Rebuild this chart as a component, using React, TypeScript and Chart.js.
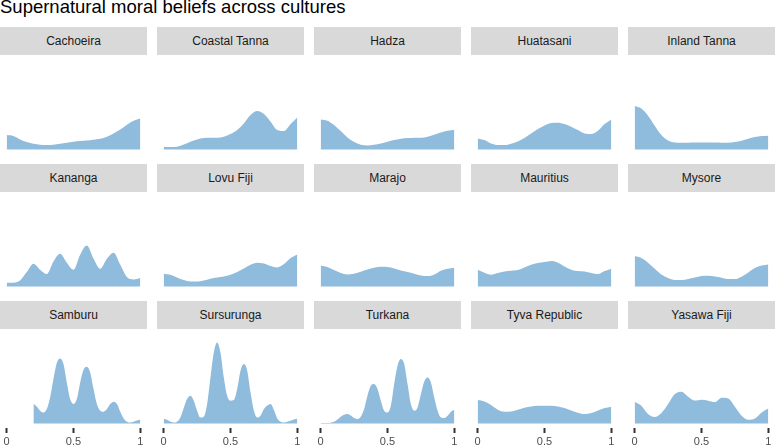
import React, { useEffect, useRef } from "react";
import { Chart, registerables } from "chart.js";

Chart.register(...registerables);

const FONT = "'Liberation Sans', Arial, Helvetica, sans-serif";
const FILL = "rgb(143,187,220)";

const chartTitle = "Supernatural moral beliefs across cultures";

const cultures = [
  "Cachoeira", "Coastal Tanna", "Hadza", "Huatasani", "Inland Tanna",
  "Kananga", "Lovu Fiji", "Marajo", "Mauritius", "Mysore",
  "Samburu", "Sursurunga", "Turkana", "Tyva Republic", "Yasawa Fiji",
];

const xTickValues = [0, 0.5, 1];
const xTickLabels = ["0", "0.5", "1"];

const xGrid21 = [0, 0.05, 0.1, 0.15, 0.2, 0.25, 0.3, 0.35, 0.4, 0.45, 0.5, 0.55, 0.6, 0.65, 0.7, 0.75, 0.8, 0.85, 0.9, 0.95, 1];
const xGrid41 = [0, 0.025, 0.05, 0.075, 0.1, 0.125, 0.15, 0.175, 0.2, 0.225, 0.25, 0.275, 0.3, 0.325, 0.35, 0.375, 0.4, 0.425, 0.45, 0.475, 0.5, 0.525, 0.55, 0.575, 0.6, 0.625, 0.65, 0.675, 0.7, 0.725, 0.75, 0.775, 0.8, 0.825, 0.85, 0.875, 0.9, 0.925, 0.95, 0.975, 1];
const xSamburu = [0.2, 0.225, 0.25, 0.275, 0.3, 0.325, 0.35, 0.375, 0.4, 0.425, 0.45, 0.475, 0.5, 0.525, 0.55, 0.575, 0.6, 0.625, 0.65, 0.675, 0.7, 0.725, 0.75, 0.775, 0.8, 0.825, 0.85, 0.875, 0.9, 0.925, 0.95, 0.975, 1];

const cachoeira = [0.72, 0.67, 0.50, 0.37, 0.29, 0.24, 0.22, 0.24, 0.29, 0.34, 0.39, 0.42, 0.45, 0.49, 0.54, 0.64, 0.80, 1.00, 1.24, 1.44, 1.55];
const coastalTanna = [0.14, 0.12, 0.14, 0.25, 0.39, 0.50, 0.57, 0.59, 0.59, 0.64, 0.77, 0.97, 1.30, 1.72, 1.92, 1.77, 1.39, 0.97, 0.92, 1.27, 1.60];
const hadza = [1.50, 1.44, 1.22, 0.92, 0.60, 0.37, 0.24, 0.20, 0.24, 0.30, 0.39, 0.47, 0.54, 0.57, 0.59, 0.59, 0.64, 0.74, 0.85, 0.94, 0.97];
const huatasani = [0.55, 0.47, 0.30, 0.22, 0.22, 0.29, 0.40, 0.57, 0.80, 1.02, 1.20, 1.32, 1.34, 1.27, 1.14, 0.97, 0.80, 0.77, 0.94, 1.27, 1.50];
const inlandTanna = [2.17, 2.05, 1.69, 1.19, 0.72, 0.45, 0.35, 0.34, 0.34, 0.35, 0.35, 0.35, 0.35, 0.34, 0.34, 0.37, 0.44, 0.54, 0.62, 0.67, 0.69];
const kananga = [0.19, 0.19, 0.30, 0.72, 1.14, 0.84, 0.62, 1.25, 1.64, 1.19, 0.84, 1.59, 2.05, 1.39, 0.89, 1.39, 1.69, 1.09, 0.47, 0.35, 0.42];
const lovuFiji = [0.64, 0.59, 0.45, 0.32, 0.25, 0.25, 0.30, 0.39, 0.45, 0.50, 0.59, 0.72, 0.90, 1.09, 1.19, 1.15, 1.02, 0.95, 1.12, 1.42, 1.60];
const marajo = [1.05, 0.97, 0.82, 0.67, 0.60, 0.64, 0.74, 0.85, 0.94, 0.99, 0.97, 0.90, 0.80, 0.72, 0.64, 0.55, 0.52, 0.60, 0.79, 0.89, 0.94];
const mauritius = [0.84, 0.69, 0.59, 0.67, 0.75, 0.79, 0.82, 0.95, 1.09, 1.17, 1.22, 1.27, 1.19, 1.00, 0.84, 0.77, 0.75, 0.67, 0.62, 0.77, 0.89];
const mysore = [1.52, 1.42, 1.19, 0.89, 0.60, 0.42, 0.32, 0.32, 0.37, 0.45, 0.52, 0.54, 0.50, 0.44, 0.37, 0.37, 0.49, 0.70, 0.92, 1.05, 1.10];
const samburu = [1.00, 0.85, 0.64, 0.55, 0.72, 1.30, 2.22, 3.02, 3.25, 2.97, 2.05, 1.22, 0.97, 1.22, 2.05, 2.69, 2.84, 2.55, 1.72, 0.97, 0.64, 0.59, 0.72, 0.97, 1.09, 0.97, 0.59, 0.25, 0.09, 0.05, 0.09, 0.15, 0.19];
const sursurunga = [0.24, 0.19, 0.10, 0.05, 0.09, 0.30, 0.77, 1.22, 1.39, 1.14, 0.64, 0.30, 0.34, 0.97, 2.30, 3.55, 4.05, 3.55, 2.30, 1.39, 1.14, 1.17, 1.72, 2.64, 2.97, 2.64, 1.55, 0.64, 0.30, 0.39, 0.72, 0.90, 0.97, 0.67, 0.25, 0.09, 0.05, 0.09, 0.14, 0.20, 0.24];
const turkana = [0.02, 0.02, 0.02, 0.04, 0.09, 0.20, 0.34, 0.44, 0.47, 0.40, 0.27, 0.22, 0.34, 0.72, 1.39, 1.89, 1.97, 1.72, 1.14, 0.64, 0.55, 0.89, 1.97, 2.89, 3.22, 2.97, 1.97, 0.97, 0.64, 0.80, 1.47, 2.10, 2.30, 2.05, 1.30, 0.64, 0.30, 0.27, 0.39, 0.59, 0.69];
const tyvaRepublic = [1.17, 1.10, 0.92, 0.69, 0.59, 0.60, 0.69, 0.79, 0.85, 0.89, 0.89, 0.89, 0.85, 0.77, 0.65, 0.54, 0.47, 0.52, 0.65, 0.77, 0.84];
const yasawaFiji = [1.09, 0.89, 0.47, 0.32, 0.52, 0.97, 1.47, 1.59, 1.34, 1.15, 1.19, 1.14, 1.07, 1.29, 1.25, 0.84, 0.39, 0.19, 0.25, 0.55, 0.75];

const panelX = [xGrid21, xGrid21, xGrid21, xGrid21, xGrid21, xGrid21, xGrid21, xGrid21, xGrid21, xGrid21, xSamburu, xGrid41, xGrid41, xGrid21, xGrid21];
const panelY = [cachoeira, coastalTanna, hadza, huatasani, inlandTanna, kananga, lovuFiji, marajo, mauritius, mysore, samburu, sursurunga, turkana, tyvaRepublic, yasawaFiji];

const Y_MAX = 4.5;

// layout (pixels)
const COLS = 5;
const PANEL_W = 147;
const COL_STEP = 157;
const STRIP_TOPS = [27, 164, 301];
const STRIP_H = 28;
const PLOT_H = 99;
const AXIS_H = 18;

function Panel({ idx }: { idx: number }) {
  const ref = useRef<HTMLCanvasElement | null>(null);
  const row = Math.floor(idx / COLS);
  const col = idx % COLS;
  const isBottom = row === 2;
  const h = PLOT_H + (isBottom ? AXIS_H : 0);

  useEffect(() => {
    if (!ref.current) return;
    const xs = panelX[idx];
    const ys = panelY[idx];
    const chart = new Chart(ref.current, {
      type: "line",
      data: {
        datasets: [
          {
            data: xs.map((x, i) => ({ x, y: ys[i] })),
            fill: "origin",
            backgroundColor: FILL,
            borderColor: "rgba(0,0,0,0)",
            borderWidth: 0,
            pointRadius: 0,
            cubicInterpolationMode: "monotone",
          },
        ],
      },
      options: {
        animation: false,
        responsive: false,
        maintainAspectRatio: false,
        events: [],
        layout: { padding: 0 },
        plugins: { legend: { display: false }, tooltip: { enabled: false }, title: { display: false } },
        scales: {
          x: {
            type: "linear",
            min: -0.05,
            max: 1.05,
            display: isBottom,
            border: { display: false },
            grid: {
              display: true,
              drawOnChartArea: false,
              drawTicks: true,
              tickLength: 5,
              tickWidth: 2,
              tickColor: "#333333",
            },
            ticks: {
              autoSkip: false,
              maxRotation: 0,
              minRotation: 0,
              padding: 2,
              color: "#4D4D4D",
              font: { family: FONT, size: 11 },
              callback: (v: any) => {
                const k = xTickValues.indexOf(Number(v));
                return k >= 0 ? xTickLabels[k] : "";
              },
            },
            afterBuildTicks: (s: any) => {
              s.ticks = xTickValues.map((v) => ({ value: v }));
            },
            afterFit: (s: any) => {
              s.height = isBottom ? AXIS_H : 0;
            },
          },
          y: {
            display: false,
            min: -Y_MAX * 0.05,
            max: Y_MAX * 1.05,
            afterFit: (s: any) => {
              s.width = 0;
            },
          },
        },
      },
    } as any);
    return () => chart.destroy();
  }, [idx]);

  const left = col * COL_STEP;
  const stripTop = STRIP_TOPS[row];
  return (
    <>
      <div
        style={{
          position: "absolute",
          left,
          top: stripTop,
          width: PANEL_W,
          height: STRIP_H,
          background: "#D9D9D9",
          color: "#1A1A1A",
          fontFamily: FONT,
          fontSize: 12,
          display: "flex",
          alignItems: "center",
          justifyContent: "center",
          lineHeight: 1,
        }}
      >
        {cultures[idx]}
      </div>
      <canvas
        ref={ref}
        width={PANEL_W}
        height={h}
        style={{ position: "absolute", left, top: stripTop + STRIP_H, width: PANEL_W, height: h }}
      />
    </>
  );
}

export default function App() {
  return (
    <div
      style={{
        position: "fixed",
        left: 0,
        top: 0,
        width: 775,
        height: 445,
        background: "#FFFFFF",
        overflow: "hidden",
      }}
    >
      <div
        style={{
          position: "absolute",
          left: 0,
          top: -2,
          fontFamily: FONT,
          fontSize: 18.5,
          lineHeight: 1,
          color: "#000000",
          whiteSpace: "nowrap",
        }}
      >
        {chartTitle}
      </div>
      {cultures.map((_, i) => (
        <Panel key={i} idx={i} />
      ))}
    </div>
  );
}
